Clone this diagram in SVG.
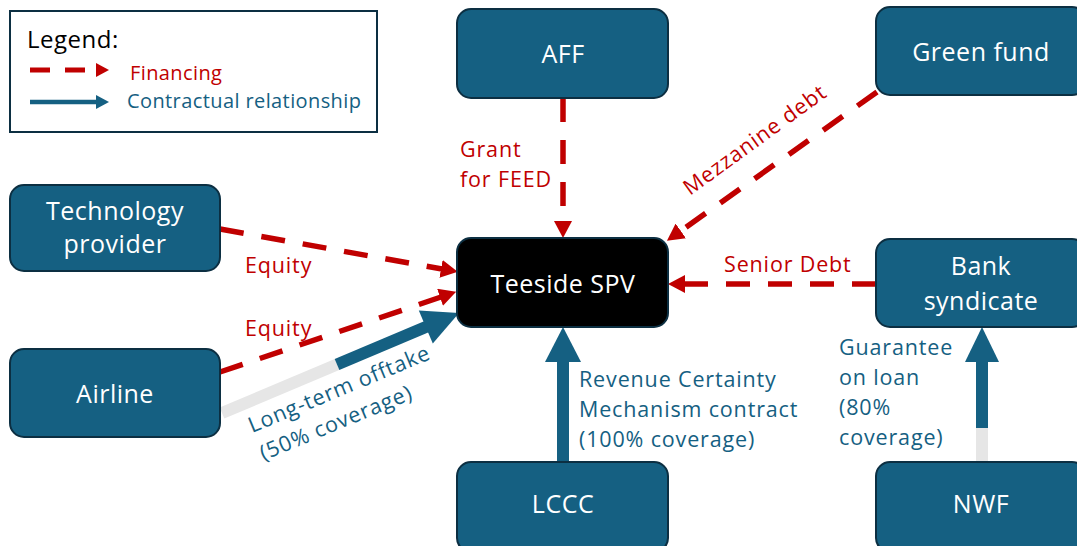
<svg xmlns="http://www.w3.org/2000/svg" width="1077" height="546" viewBox="0 0 1077 546">
  <style>
    .node rect { fill: #156082; stroke: #0c2f42; stroke-width: 2; }
    .node text { fill: #ffffff; font-family: "Open Sans", "Liberation Sans", sans-serif; font-size: 25px; letter-spacing: 0.5px; text-anchor: middle; }
    #spv rect { fill: #000000; stroke: #0c2f42; }
    .fin { fill: none; stroke: #c00000; stroke-width: 5.5; stroke-dasharray: 24 18; }
    .con { fill: none; stroke: #156082; stroke-width: 12; }
    .grey { fill: none; stroke: #e6e6e6; stroke-width: 12; }
    .head { fill: #156082; }
    .lbl { font-family: "Open Sans", "Liberation Sans", sans-serif; font-size: 21.5px; letter-spacing: 0.85px; }
    .leg { font-family: "Open Sans", "Liberation Sans", sans-serif; font-size: 20px; letter-spacing: 0.4px; }
    .red { fill: #c00000; }
    .blue { fill: #156082; }
  </style>
  <defs>
    <marker id="redHead" markerUnits="userSpaceOnUse" markerWidth="18" markerHeight="18" refX="1" refY="9" orient="auto">
      <path d="M0,0 L17,9 L0,18 z" fill="#c00000"/>
    </marker>
    <marker id="redHeadSmall" markerUnits="userSpaceOnUse" markerWidth="14" markerHeight="14" refX="1" refY="7" orient="auto">
      <path d="M0,0 L13,7 L0,14 z" fill="#c00000"/>
    </marker>
    <marker id="blueHeadSmall" markerUnits="userSpaceOnUse" markerWidth="14" markerHeight="14" refX="1" refY="7" orient="auto">
      <path d="M0,0 L13,7 L0,14 z" fill="#156082"/>
    </marker>
  </defs>

  <rect width="1077" height="546" fill="#ffffff"/>

  <!-- legend -->
  <g id="legend">
    <rect x="10" y="11" width="367" height="121" fill="#ffffff" stroke="#0c2f42" stroke-width="2"/>
    <text x="27" y="48" font-family="Open Sans, Liberation Sans, sans-serif" font-size="24" letter-spacing="0.5" fill="#000000">Legend:</text>
    <line x1="30" y1="70" x2="97" y2="70" stroke="#c00000" stroke-width="5" stroke-dasharray="20 15" marker-end="url(#redHeadSmall)"/>
    <text class="leg red" x="130" y="80">Financing</text>
    <line x1="30" y1="102" x2="97" y2="102" stroke="#156082" stroke-width="4.5" marker-end="url(#blueHeadSmall)"/>
    <text class="leg blue" x="127" y="108">Contractual relationship</text>
  </g>

  <!-- connectors -->
  <g id="connectors">
    <!-- financing flows -->
    <line class="fin" x1="563" y1="98" x2="563" y2="222" marker-end="url(#redHead)"/>
    <line class="fin" x1="877" y1="92" x2="680" y2="231.5" marker-end="url(#redHead)"/>
    <line class="fin" x1="220" y1="229" x2="442" y2="269" marker-end="url(#redHead)"/>
    <line class="fin" x1="220" y1="372" x2="441" y2="297" marker-end="url(#redHead)"/>
    <line class="fin" x1="876" y1="284" x2="684" y2="284" marker-end="url(#redHead)"/>

    <!-- contractual relationships -->
    <line class="grey" x1="222" y1="413" x2="337" y2="364.5"/>
    <line class="con" x1="337" y1="364.5" x2="427" y2="326.5"/>
    <polygon class="head" points="459,313 432.8,343.6 418.8,310.4"/>

    <line class="con" x1="563" y1="462" x2="563" y2="361"/>
    <polygon class="head" points="545,362 581,362 563,327"/>

    <line class="grey" x1="982" y1="462" x2="982" y2="428"/>
    <line class="con" x1="982" y1="428" x2="982" y2="361"/>
    <polygon class="head" points="965,362 999,362 982,327"/>

    <!-- labels -->
    <text class="lbl red" x="460" y="157">Grant</text>
    <text class="lbl red" x="460" y="187">for FEED</text>
    <text class="lbl red" transform="translate(690,196) rotate(-36)">Mezzanine debt</text>
    <text class="lbl red" x="245" y="273">Equity</text>
    <text class="lbl red" x="245" y="336">Equity</text>
    <text class="lbl red" x="724" y="272">Senior Debt</text>
    <g class="lbl blue" transform="translate(252,433) rotate(-22.5)">
      <text x="0" y="0">Long-term offtake</text>
      <text x="0" y="30">(50% coverage)</text>
    </g>
    <text class="lbl blue" x="579" y="387">Revenue Certainty</text>
    <text class="lbl blue" x="579" y="417">Mechanism contract</text>
    <text class="lbl blue" x="579" y="447">(100% coverage)</text>
    <text class="lbl blue" x="839" y="355">Guarantee</text>
    <text class="lbl blue" x="839" y="385">on loan</text>
    <text class="lbl blue" x="839" y="415">(80%</text>
    <text class="lbl blue" x="839" y="445">coverage)</text>
  </g>

  <!-- nodes -->
  <g id="tech" class="node">
    <rect x="10" y="185" width="210" height="86" rx="14"/>
    <text x="115" y="220">Technology</text>
    <text x="115" y="253">provider</text>
  </g>
  <g id="aff" class="node">
    <rect x="457" y="9" width="211" height="89" rx="14"/>
    <text x="563" y="63">AFF</text>
  </g>
  <g id="greenfund" class="node">
    <rect x="876" y="7" width="210" height="88" rx="14"/>
    <text x="981" y="61">Green fund</text>
  </g>
  <g id="spv" class="node">
    <rect x="457" y="238" width="211" height="89" rx="14"/>
    <text x="563" y="293">Teeside SPV</text>
  </g>
  <g id="bank" class="node">
    <rect x="876" y="239" width="210" height="88" rx="14"/>
    <text x="981" y="275">Bank</text>
    <text x="981" y="310">syndicate</text>
  </g>
  <g id="airline" class="node">
    <rect x="10" y="349" width="210" height="88" rx="14"/>
    <text x="115" y="403">Airline</text>
  </g>
  <g id="lccc" class="node">
    <rect x="457" y="462" width="211" height="90" rx="14"/>
    <text x="563" y="513">LCCC</text>
  </g>
  <g id="nwf" class="node">
    <rect x="876" y="462" width="210" height="90" rx="14"/>
    <text x="981" y="513">NWF</text>
  </g>
</svg>
